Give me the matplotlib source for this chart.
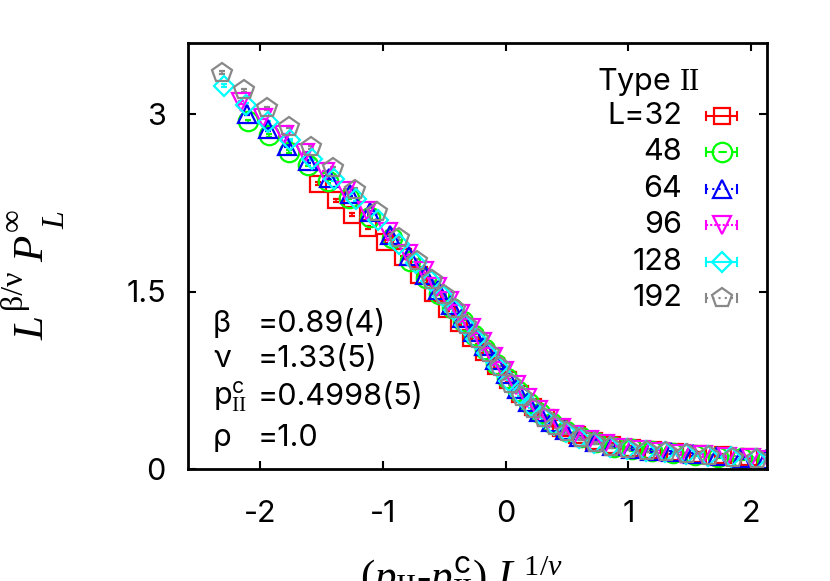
import matplotlib
matplotlib.use("Agg")
import matplotlib.pyplot as plt
from matplotlib.lines import Line2D

SANS = ['Inter', 'Liberation Sans', 'DejaVu Sans']
plt.rcParams['font.family'] = SANS
plt.rcParams['mathtext.fontset'] = 'custom'
plt.rcParams['mathtext.rm'] = 'Liberation Serif'
plt.rcParams['mathtext.it'] = 'Liberation Serif:italic'
plt.rcParams['mathtext.sf'] = 'Inter'
plt.rcParams['mathtext.bf'] = 'Liberation Serif:bold'

# ---------------- data ----------------
sizes = ["L=32", "48", "64", "96", "128", "192"]
colors = ["#ff0000", "#00ff00", "#0000ff", "#ff00ff", "#00ffff", "#888888"]
markers = ["s", "o", "^", "v", "D", "p"]
msizes = [12, 14, 13, 13, 10, 15]
legend_ls = ["-", (0, (4, 2)), (0, (1, 2)), (0, (1, 1)), "-", (0, (1, 2))]
errs = [0.012, 0.012, 0.012, 0.012, 0.012, 0.012]

x32 = [-1.53, -1.38, -1.25, -1.12, -0.98, -0.84, -0.71, -0.59, -0.48, -0.38, -0.28, -0.18,
       -0.08, 0.02, 0.12, 0.22, 0.33, 0.45, 0.58, 0.72, 0.87, 1.03, 1.20, 1.38, 1.57, 1.77, 1.98]
y32 = [2.41, 2.27, 2.15, 2.04, 1.92, 1.79, 1.64, 1.49, 1.35, 1.23, 1.11, 0.99,
       0.87, 0.75, 0.63, 0.52, 0.43, 0.35, 0.29, 0.24, 0.205, 0.18, 0.16, 0.145, 0.13, 0.115, 0.10]

x48 = [-2.10, -1.93, -1.77, -1.61, -1.45, -1.28, -1.11, -0.93, -0.78, -0.65, -0.54, -0.44,
       -0.35, -0.26, -0.17, -0.08, 0.01, 0.10, 0.19, 0.28, 0.38, 0.49, 0.61, 0.74, 0.88,
       1.03, 1.19, 1.36, 1.54, 1.73, 1.93, 2.13]
y48 = [2.94, 2.82, 2.68, 2.57, 2.43, 2.29, 2.13, 1.95, 1.76, 1.61, 1.48, 1.36,
       1.25, 1.13, 1.01, 0.89, 0.77, 0.66, 0.56, 0.47, 0.39, 0.32, 0.27, 0.225, 0.19,
       0.165, 0.15, 0.135, 0.12, 0.105, 0.09, 0.08]

x64 = [-2.11, -1.94, -1.78, -1.61, -1.44, -1.27, -1.11, -0.94, -0.79, -0.66, -0.55, -0.45,
       -0.36, -0.27, -0.18, -0.09, 0.00, 0.09, 0.18, 0.27, 0.37, 0.48, 0.60, 0.73, 0.87,
       1.02, 1.18, 1.35, 1.53, 1.72, 1.92, 2.12]
y64 = [3.00, 2.87, 2.73, 2.60, 2.46, 2.32, 2.17, 1.98, 1.80, 1.64, 1.51, 1.39,
       1.28, 1.16, 1.04, 0.92, 0.80, 0.68, 0.57, 0.48, 0.40, 0.33, 0.27, 0.23, 0.195,
       0.17, 0.155, 0.14, 0.125, 0.11, 0.095, 0.085]

x96 = [-2.16, -1.98, -1.81, -1.64, -1.47, -1.30, -1.13, -0.96, -0.80, -0.67, -0.56, -0.46,
       -0.37, -0.28, -0.19, -0.10, -0.01, 0.08, 0.17, 0.26, 0.35, 0.45, 0.56, 0.68, 0.81,
       0.95, 1.10, 1.26, 1.43, 1.61, 1.80, 2.00, 2.15]
y96 = [3.10, 2.97, 2.82, 2.67, 2.51, 2.35, 2.18, 2.00, 1.82, 1.67, 1.54, 1.42,
       1.31, 1.19, 1.07, 0.95, 0.83, 0.71, 0.60, 0.50, 0.42, 0.35, 0.29, 0.245, 0.21,
       0.18, 0.16, 0.145, 0.13, 0.115, 0.10, 0.09, 0.075]

x128 = [-2.30, -2.12, -1.94, -1.76, -1.58, -1.40, -1.22, -1.04, -0.87, -0.73, -0.61, -0.51,
        -0.42, -0.33, -0.24, -0.15, -0.06, 0.03, 0.12, 0.21, 0.30, 0.39, 0.49, 0.60, 0.72,
        0.85, 0.99, 1.14, 1.30, 1.47, 1.65, 1.84, 2.04]
y128 = [3.24, 3.08, 2.93, 2.78, 2.62, 2.45, 2.28, 2.10, 1.90, 1.74, 1.59, 1.46,
        1.34, 1.22, 1.10, 0.98, 0.86, 0.74, 0.63, 0.53, 0.44, 0.37, 0.31, 0.26, 0.22,
        0.19, 0.17, 0.155, 0.14, 0.125, 0.11, 0.10, 0.085]

x192 = [-2.31, -2.13, -1.95, -1.77, -1.59, -1.41, -1.23, -1.05, -0.87, -0.72, -0.60, -0.50,
        -0.41, -0.32, -0.23, -0.14, -0.05, 0.04, 0.13, 0.22, 0.31, 0.40, 0.50, 0.61, 0.73,
        0.86, 1.00, 1.15, 1.31, 1.48, 1.66, 1.85, 2.05]
y192 = [3.35, 3.20, 3.05, 2.89, 2.72, 2.54, 2.36, 2.17, 1.95, 1.76, 1.60, 1.47,
        1.35, 1.22, 1.10, 0.98, 0.86, 0.72, 0.61, 0.51, 0.43, 0.36, 0.31, 0.26, 0.22,
        0.19, 0.17, 0.155, 0.14, 0.125, 0.11, 0.095, 0.085]

xs = [x32, x48, x64, x96, x128, x192]
ys = [y32, y48, y64, y96, y128, y192]

xticks = [-2, -1, 0, 1, 2]
xticklabels = ["-2", "-1", "0", "1", "2"]
yticks = [0, 1.5, 3]
yticklabels = ["0", "1.5", "3"]

params = [("\u03b2", "=0.89(4)"),
          ("\u03bd", "=1.33(5)"),
          (r"p$_{\mathrm{II}}^{\mathsf{c}}$", "=0.4998(5)"),
          ("\u03c1", "=1.0")]

# ---------------- figure ----------------
W, H = 830, 581
fig = plt.figure(figsize=(W / 100, H / 100), dpi=100)
ax = fig.add_axes([188 / W, (H - 469) / H, (767 - 188) / W, (469 - 43) / H])

for x, y, c, m, ms, e in zip(xs, ys, colors, markers, msizes, errs):
    ax.errorbar(x, y, yerr=e, fmt=m, color=c, ms=ms, mfc="none", mew=1.6,
                elinewidth=1.2, capsize=2.5, capthick=1.2, ls="none")

ax.set_xlim(-2.59, 2.13)
ax.set_ylim(0, 3.6)
ax.set_xticks(xticks)
ax.set_xticklabels(xticklabels)
ax.set_yticks(yticks)
ax.set_yticklabels(yticklabels)
ax.tick_params(direction="in", length=6, width=1.5, labelsize=22, top=True, right=True)
ax.tick_params(axis="x", pad=22)
ax.tick_params(axis="y", pad=16)
for s in ax.spines.values():
    s.set_linewidth(2)

# overlay in pixel coordinates for texts / key
ov = fig.add_axes([0, 0, 1, 1], facecolor="none")
ov.set_xlim(0, W)
ov.set_ylim(H, 0)
ov.axis("off")

SERIF_I = dict(family="Liberation Serif", style="italic")
# y label composed of pieces (rotated)
ov.text(33, 328, "L", rotation=90, ha="center", va="center", fontsize=31, **SERIF_I)
ov.text(14, 289, "\u03b2/\u03bd", rotation=90, ha="center", va="center", fontsize=23,
        family="Liberation Serif")
ov.text(33, 249, "P", rotation=90, ha="center", va="center", fontsize=31, **SERIF_I)
ov.text(13, 220, "\u221e", rotation=90, ha="center", va="center", fontsize=23,
        family="Liberation Serif")
ov.text(57, 220, "L", rotation=90, ha="center", va="center", fontsize=23, **SERIF_I)

# x label
ov.text(461, 589, r"$(p_{\mathrm{II}}$-$p_{\mathrm{II}}^{\mathsf{c}})\ L^{1/\nu}$",
        ha="center", va="baseline", fontsize=31, family="Liberation Serif")

# parameters block
pys = [324, 359, 397, 438]
for (sym, val), py in zip(params, pys):
    ov.text(213, py, sym, ha="left", va="center", fontsize=22)
    ov.text(258, py, val, ha="left", va="center", fontsize=22)

# key
ov.text(597, 82, r"Type $\mathrm{II}$", ha="left", va="center", fontsize=22)
for i, (lab, c, m, ms, ls) in enumerate(zip(sizes, colors, markers, msizes, legend_ls)):
    ky = 116 + i * 36.4
    ov.text(682, ky, lab, ha="right", va="center", fontsize=22)
    ov.add_line(Line2D([706, 737], [ky, ky], color=c, lw=1.5, ls=ls))
    ov.add_line(Line2D([706, 706], [ky - 4, ky + 4], color=c, lw=1.5))
    ov.add_line(Line2D([737, 737], [ky - 4, ky + 4], color=c, lw=1.5))
    ov.add_line(Line2D([722], [ky], color=c, marker=m, ms=ms, mfc="none", mew=1.6, ls="none"))

fig.savefig("out.png", dpi=100)
